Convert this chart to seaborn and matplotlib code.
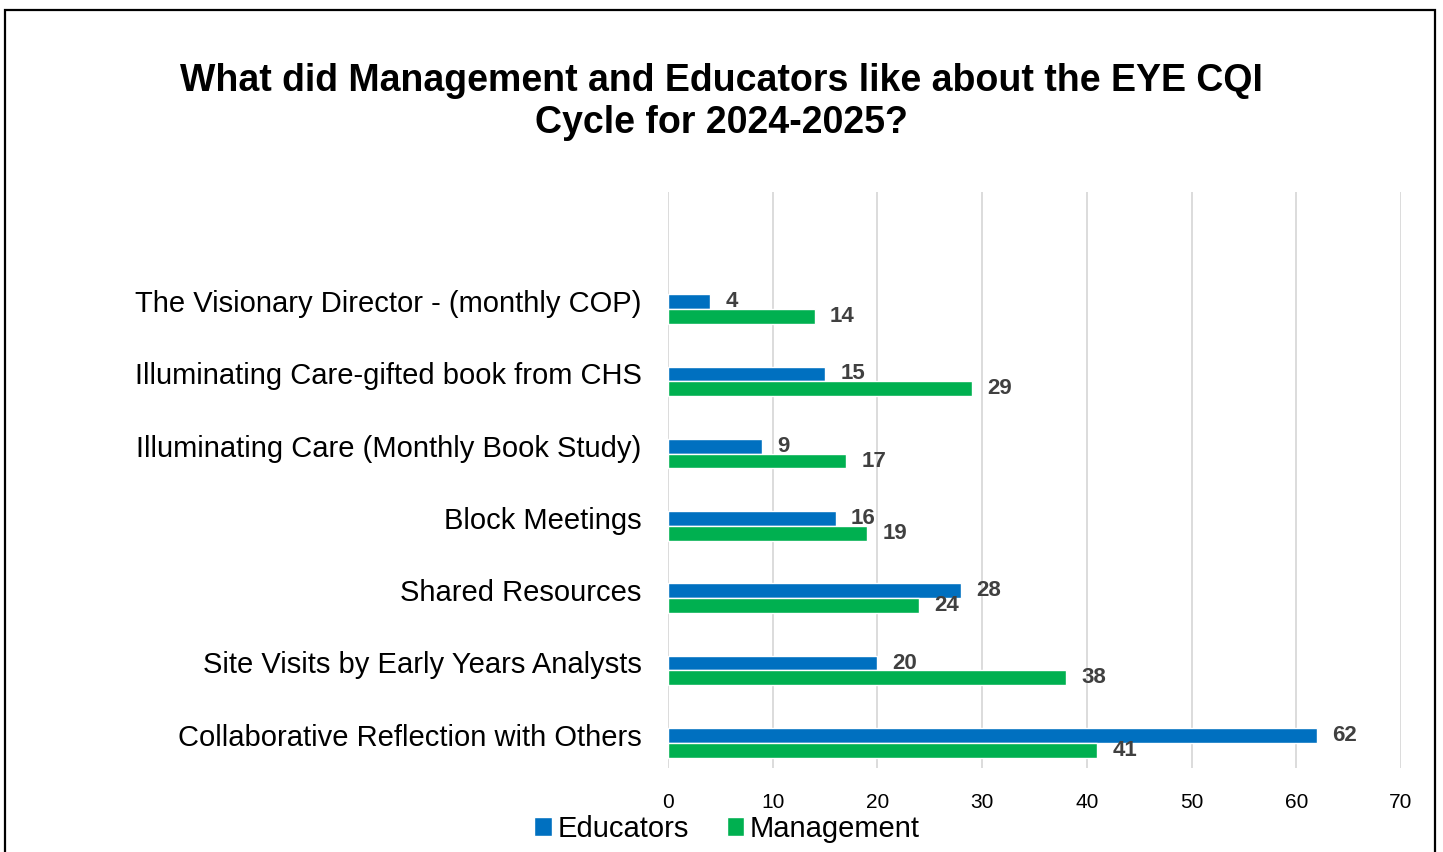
import matplotlib
matplotlib.use("Agg")
import matplotlib.pyplot as plt
from matplotlib.patches import Rectangle
from matplotlib.transforms import ScaledTranslation
import pandas as pd
import seaborn as sns

# Survey items, listed top to bottom as they appear in the chart
items = [
    "The Visionary Director - (monthly COP)",
    "Illuminating Care-gifted book from CHS",
    "Illuminating Care (Monthly Book Study)",
    "Block Meetings",
    "Shared Resources",
    "Site Visits by Early Years Analysts",
    "Collaborative Reflection with Others",
]
educators = [4, 15, 9, 16, 28, 20, 62]
management = [14, 29, 17, 19, 24, 38, 41]
groups = ["Educators", "Management"]
colors = ["#0070C0", "#00B050"]
x_ticks = [0, 10, 20, 30, 40, 50, 60, 70]

title = "What did Management and Educators like about the EYE CQI\nCycle for 2024-2025?"

sns.set_theme(style="white")
plt.rcParams["font.family"] = ["Liberation Sans", "DejaVu Sans"]

df = pd.DataFrame({
    "item": items * 2,
    "count": educators + management,
    "group": [groups[0]] * len(items) + [groups[1]] * len(items),
})

W, H = 1443, 852
fig = plt.figure(figsize=(W / 100, H / 100), dpi=100)
ax = fig.add_axes([668 / W, 1 - 768 / H, (1401 - 668) / W, (768 - 192) / H])

sns.barplot(data=df, y="item", x="count", hue="group", order=items,
            hue_order=groups, palette=colors, orient="h", width=0.41,
            saturation=1, ax=ax)

for cont in ax.containers:
    ax.bar_label(cont, padding=11, fontsize=16, fontweight="bold", color="#404040")

ax.set_xlim(0, 70)
ax.set_xticks(x_ticks)
ax.set_ylim(6.35, -1.62)
ax.set_xlabel("")
ax.set_ylabel("")
ax.grid(axis="x", color="#d9d9d9", linewidth=1.3)
ax.set_axisbelow(True)
for s in ax.spines.values():
    s.set_visible(False)
ax.tick_params(axis="x", labelsize=15, colors="black", length=0, pad=18)
ax.tick_params(axis="y", labelsize=21, colors="black", length=0, pad=19)

# category labels sit level with the upper (Educators) bar
shift = ScaledTranslation(0, 0.08, fig.dpi_scale_trans)
for lab in ax.get_yticklabels():
    lab.set_transform(lab.get_transform() + shift)

handles, labels = ax.get_legend_handles_labels()
ax.get_legend().remove()
fig.legend(handles, labels, loc="center", bbox_to_anchor=(727 / W, 1 - 829 / H),
           ncol=2, frameon=False, fontsize=21, handlelength=0.6,
           handleheight=0.6, handletextpad=0.2, columnspacing=1.3,
           labelcolor="black")

fig.text(0.5, 1 - 102 / H, title, ha="center", va="center", fontsize=27,
         fontweight="bold", linespacing=1.22, color="black")

fig.add_artist(Rectangle((5 / W, -0.02), 1430 / W, (1 - 10 / H) + 0.02,
                         transform=fig.transFigure, fill=False,
                         edgecolor="black", linewidth=1.6))

fig.savefig("out.png", dpi=100)
